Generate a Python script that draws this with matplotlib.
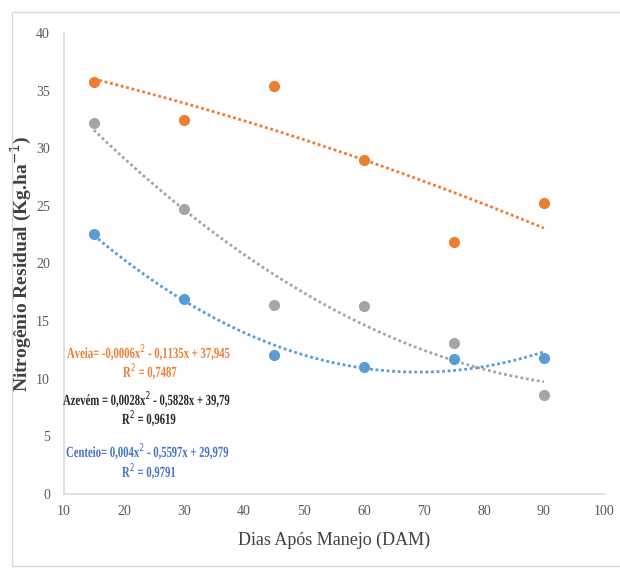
import numpy as np
import matplotlib.pyplot as plt
from matplotlib.patches import Rectangle
from matplotlib.patheffects import AbstractPathEffect
from matplotlib.transforms import Affine2D

dias = [15, 30, 45, 60, 75, 90]
aveia = [35.75, 32.45, 35.4, 29.0, 21.9, 25.25]
azevem = [32.2, 24.7, 16.4, 16.3, 13.1, 8.6]
centeio = [22.6, 16.9, 12.1, 11.0, 11.7, 11.8]

series = [
    (aveia, "#ED7D31"),
    (azevem, "#A5A5A5"),
    (centeio, "#5B9BD5"),
]


# squeezes text horizontally (condensed look), anchored at the left of the text
class Squeeze(AbstractPathEffect):
    def __init__(self, sx):
        super().__init__()
        self.sx = sx

    def draw_path(self, renderer, gc, tpath, affine, rgbFace=None):
        renderer.draw_path(gc, tpath, Affine2D().scale(self.sx, 1) + affine, rgbFace)


plt.rcParams["font.family"] = ["Liberation Serif", "DejaVu Serif"]

fig = plt.figure(figsize=(6.2, 5.76), dpi=100)
fig.patches.append(Rectangle((12 / 620, 10 / 576), 1.0, 554 / 576,
                             transform=fig.transFigure, fill=False,
                             edgecolor="#D9D9D9", linewidth=1))
ax = fig.add_axes([0.103, 0.1424, 0.871, 0.8003])

xs = np.linspace(15, 90, 200)
for vals, col in series:
    ax.plot(dias, vals, "o", color=col, markersize=7, zorder=3)
    coef = np.polyfit(dias, vals, 2)
    ax.plot(xs, np.polyval(coef, xs), linestyle=(0, (1, 1)), color=col,
            linewidth=2, zorder=2)

ax.set_xlim(10, 100)
ax.set_ylim(0, 40)
ax.set_xticks(range(10, 101, 10))
ax.set_yticks(range(0, 41, 5))
for s in ["top", "right"]:
    ax.spines[s].set_visible(False)
for s in ["left", "bottom"]:
    ax.spines[s].set_color("#D9D9D9")
    ax.spines[s].set_linewidth(1.2)
ax.tick_params(axis="x", length=0, labelsize=10, labelcolor="#595959", pad=8)
ax.tick_params(axis="y", length=0, labelsize=10, labelcolor="#595959", pad=10)

ax.set_xlabel("Dias Após Manejo (DAM)", fontsize=13, color="#404040", labelpad=10)
ax.set_ylabel("Nitrogênio Residual (Kg.ha$^{-1}$)", fontsize=14,
              fontweight="bold", color="#404040")
ax.yaxis.set_label_coords(-0.055, 0.5)

sq = [Squeeze(0.7)]
txt = dict(transform=fig.transFigure, ha="left", fontsize=11,
           fontweight="bold", path_effects=sq)
fig.text(67 / 620, 1 - 358 / 576, "Aveia= -0,0006x$^2$ - 0,1135x + 37,945",
         color="#ED7D31", **txt)
fig.text(123 / 620, 1 - 377 / 576, "R$^2$ = 0,7487", color="#ED7D31", **txt)
fig.text(63 / 620, 1 - 405 / 576, "Azevém = 0,0028x$^2$ - 0,5828x + 39,79",
         color="#262626", **txt)
fig.text(122 / 620, 1 - 424 / 576, "R$^2$ = 0,9619", color="#262626", **txt)
fig.text(66 / 620, 1 - 457 / 576, "Centeio= 0,004x$^2$ - 0,5597x + 29,979",
         color="#4472C4", **txt)
fig.text(122 / 620, 1 - 477 / 576, "R$^2$ = 0,9791", color="#4472C4", **txt)

fig.savefig("out.png", dpi=100)
